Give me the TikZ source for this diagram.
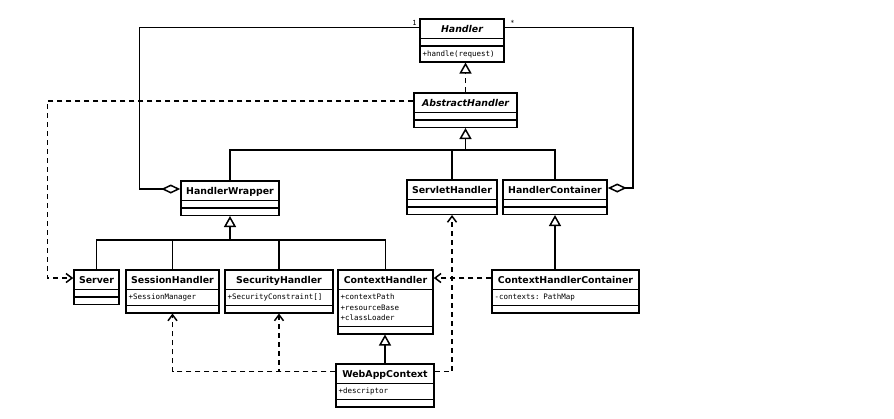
\documentclass[tikz,border=0pt]{standalone}
\usepackage{fontspec}
\setmainfont{DejaVu Sans}
\setmonofont{DejaVu Sans Mono}
\usetikzlibrary{shapes.multipart}
\usetikzlibrary{arrows.meta}
\usetikzlibrary{positioning}
\newcommand\titlefont{\normalfont\fontsize{9.4}{11}\selectfont\bfseries}
\newcommand\attrfont{\fontsize{7.5}{10.5}\selectfont\ttfamily}
\newcommand\multfont{\fontsize{7}{8}\selectfont\ttfamily}
\newcommand\ctitle[1]{\makebox[\linewidth][c]{\titlefont\rule[-3.5pt]{0pt}{14pt}#1}}
\newcommand\att[1]{\rule[-3pt]{0pt}{10.5pt}#1}
\newcommand\blankpart{\rule{0pt}{2pt}}
\tikzset{umlclass/.style={draw, line width=1.5pt, fill=white, rectangle split, rectangle split parts=3, align=left, inner xsep=2.5pt, inner ysep=2pt, font=\attrfont, anchor=north}}
\tikzset{link/.style={line width=1.5pt}}
\tikzset{gen/.style={link, -{Triangle[open, length=11pt, width=12pt]}}}
\tikzset{real/.style={link, dash pattern=on 5pt off 4pt, -{Triangle[open, length=11pt, width=12pt]}}}
\tikzset{dep/.style={link, dash pattern=on 5pt off 4pt, -{Straight Barb[length=6pt, width=9pt]}}}
\tikzset{agg/.style={link, -{Diamond[open, length=19pt, width=9pt]}}}
\tikzset{mult/.style={font=\multfont, inner sep=0.5pt}}

\begin{document}
\begin{tikzpicture}[x=1pt, y=-1pt]
  \fill[white] (0,0) rectangle (894,418);

  \node[umlclass, text width=79pt] (h) at (462,18) {\ctitle{\itshape Handler}\nodepart{two}\blankpart\nodepart{three}\att{+handle(request)}};
  \node[umlclass, text width=98pt] (ah) at (465.5,92) {\ctitle{\itshape AbstractHandler}\nodepart{two}\blankpart\nodepart{three}\blankpart};

  \node[umlclass, text width=93pt] (hw) at (230,180) {\ctitle{HandlerWrapper}\nodepart{two}\blankpart\nodepart{three}\blankpart};
  \node[umlclass, text width=85pt] (sh) at (452,179) {\ctitle{ServletHandler}\nodepart{two}\blankpart\nodepart{three}\blankpart};
  \node[umlclass, text width=99pt] (hc) at (555,179) {\ctitle{HandlerContainer}\nodepart{two}\blankpart\nodepart{three}\blankpart};

  \node[umlclass, text width=40pt] (srv) at (96.5,269) {\ctitle{Server}\nodepart{two}\blankpart\nodepart{three}\blankpart};
  \node[umlclass, text width=88pt] (ssh) at (172.5,269) {\ctitle{SessionHandler}\nodepart{two}\att{+SessionManager}\nodepart{three}\blankpart};
  \node[umlclass, text width=103pt] (sec) at (279,269) {\ctitle{SecurityHandler}\nodepart{two}\att{+SecurityConstraint[]}\nodepart{three}\blankpart};
  \node[umlclass, text width=90pt] (ch) at (385.5,269) {\ctitle{ContextHandler}\nodepart{two}\att{+contextPath}\\+resourceBase\\\att{+classLoader}\nodepart{three}\blankpart};
  \node[umlclass, text width=142pt] (chc) at (565.5,269) {\ctitle{ContextHandlerContainer}\nodepart{two}\att{-contexts: PathMap}\nodepart{three}\blankpart};

  \node[umlclass, text width=93pt] (wac) at (385,363) {\ctitle{WebAppContext}\nodepart{two}\att{+descriptor}\nodepart{three}\blankpart};

  \node[mult, anchor=south east] (m1) at ([xshift=-2pt,yshift=-8.5pt]h.north west) {1};
  \node[mult, anchor=south west] (m2) at ([xshift=5pt,yshift=-8pt]h.north east) {*};

  \draw[real] (ah.north) -- (ah.north |- h.south);

  \coordinate (busA) at (465,150);
  \draw[link] (hw.north) |- (hc.north |- busA) -- (hc.north);
  \draw[link] (sh.north) -- (sh.north |- busA);
  \draw[gen] (ah.south |- busA) -- (ah.south);

  \coordinate (busB) at (230,240);
  \draw[link] (srv.north) |- (ch.north |- busB) -- (ch.north);
  \draw[link] (ssh.north) -- (ssh.north |- busB);
  \draw[link] (sec.north) -- (sec.north |- busB);
  \draw[gen] (hw.south |- busB) -- (hw.south);

  \draw[gen] (hc.south |- chc.north) -- (hc.south);
  \draw[gen] (wac.north) -- (wac.north |- ch.south);

  \draw[agg] ([yshift=-9.5pt]h.north west) -| ([xshift=-41pt,yshift=-9pt]hw.north west) -- ([yshift=-9pt]hw.north west);
  \draw[agg] ([yshift=-9.5pt]h.north east) -| ([xshift=25pt,yshift=-9pt]hc.north east) -- ([yshift=-9pt]hc.north east);

  \draw[dep] ([yshift=-9pt]ah.north west) -| ([xshift=-26pt,yshift=-9pt]srv.north west) -- ([yshift=-9pt]srv.north west);
  \draw[dep] ([yshift=-9pt]chc.north west) -- ([yshift=-9pt]ch.north east);
  \draw[dep] ([yshift=-8.5pt]wac.north east) -| (sh.south);
  \draw[dep] ([yshift=-8.5pt]wac.north west) -| (ssh.south);
  \draw[dep] ([yshift=-8.5pt]wac.north west) -| (sec.south);

\end{tikzpicture}
\end{document}
